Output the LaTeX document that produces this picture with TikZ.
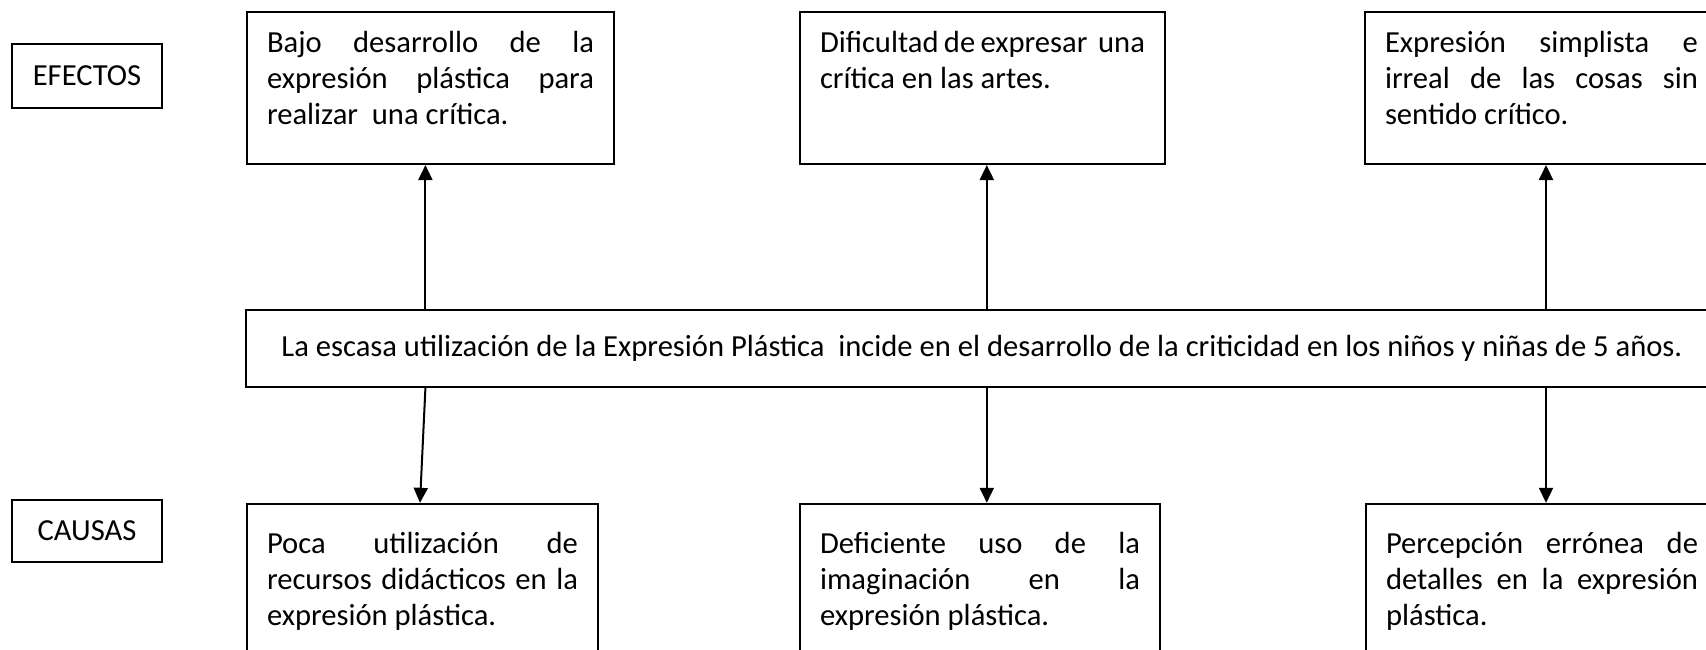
\documentclass[tikz,border=0pt]{standalone}
\usepackage{fontspec}
\setmainfont{Carlito}
\usetikzlibrary{arrows.meta}
\newcommand{\jtext}[4]{\parbox[t][#2][t]{#1}{\hyphenpenalty=10000\exhyphenpenalty=10000\rule{0pt}{#3}#4}}
\tikzset{
  base/.style={font=\fontsize{15.3}{18.2}\selectfont},
  tbox/.style={draw, line width=1pt, anchor=north west, inner xsep=10pt, inner ysep=0pt, base},
  lbl/.style={draw, line width=1pt, base, minimum width=75pt, inner sep=0pt},
  mbox/.style={draw, line width=1pt, base, minimum width=736pt, minimum height=38.5pt, inner sep=0pt},
  arr/.style={line width=1pt, -{Triangle[length=7.5pt,width=7pt]}}
}
\begin{document}
\begin{tikzpicture}[x=1pt,y=1pt]
\useasboundingbox (0,0) rectangle (853,-324.5);
\clip (0,0) rectangle (853,-324.5);
% labels
\node[lbl, minimum height=32.25pt] (ef) at (43.5,-37.9) {EFECTOS};
\node[lbl, minimum height=30.7pt] (ca) at (43.5,-265.4) {CAUSAS};
% effects
\node[tbox] (e1) at (123,-5.5) {\jtext{163.5pt}{76pt}{20pt}{Bajo desarrollo de la\linebreak expresión plástica para\linebreak realizar~ una crítica.}};
\node[tbox] (e2) at (399.5,-5.5) {\jtext{162.5pt}{76pt}{20pt}{Dificultad de expresar~ una crítica en las artes.}};
\node[tbox] (e3) at (682,-5.5) {\jtext{156.5pt}{76pt}{20pt}{Expresión simplista e\linebreak irreal de las cosas sin\linebreak sentido crítico.}};
% problem
\node[mbox] (m) at (491,-174.25) {La escasa utilización de la Expresión Plástica~ incide en el desarrollo de la criticidad en los niños y niñas de 5 años.};
% causes
\node[tbox] (c1) at (123,-251.4) {\jtext{155.5pt}{100pt}{24.6pt}{Poca utilización de\linebreak recursos didácticos en la\linebreak expresión plástica.}};
\node[tbox] (c2) at (399.5,-251.4) {\jtext{160pt}{100pt}{24.6pt}{Deficiente uso de la\linebreak imaginación en la\linebreak expresión plástica.}};
\node[tbox] (c3) at (682.5,-251.4) {\jtext{156pt}{100pt}{24.6pt}{Percepción errónea de\linebreak detalles en la expresión\linebreak plástica.}};
% arrow columns
\coordinate (a1) at (212.7,0);
\coordinate (a2) at (493.4,0);
\coordinate (a3) at (773,0);
\coordinate (b1) at (210,0);
\draw[arr] (m.north -| a1) -- (e1.south -| a1);
\draw[arr] (m.north -| a2) -- (e2.south -| a2);
\draw[arr] (m.north -| a3) -- (e3.south -| a3);
\draw[arr] (m.south -| a1) -- (c1.north -| b1);
\draw[arr] (m.south -| a2) -- (c2.north -| a2);
\draw[arr] (m.south -| a3) -- (c3.north -| a3);
\end{tikzpicture}
\end{document}
